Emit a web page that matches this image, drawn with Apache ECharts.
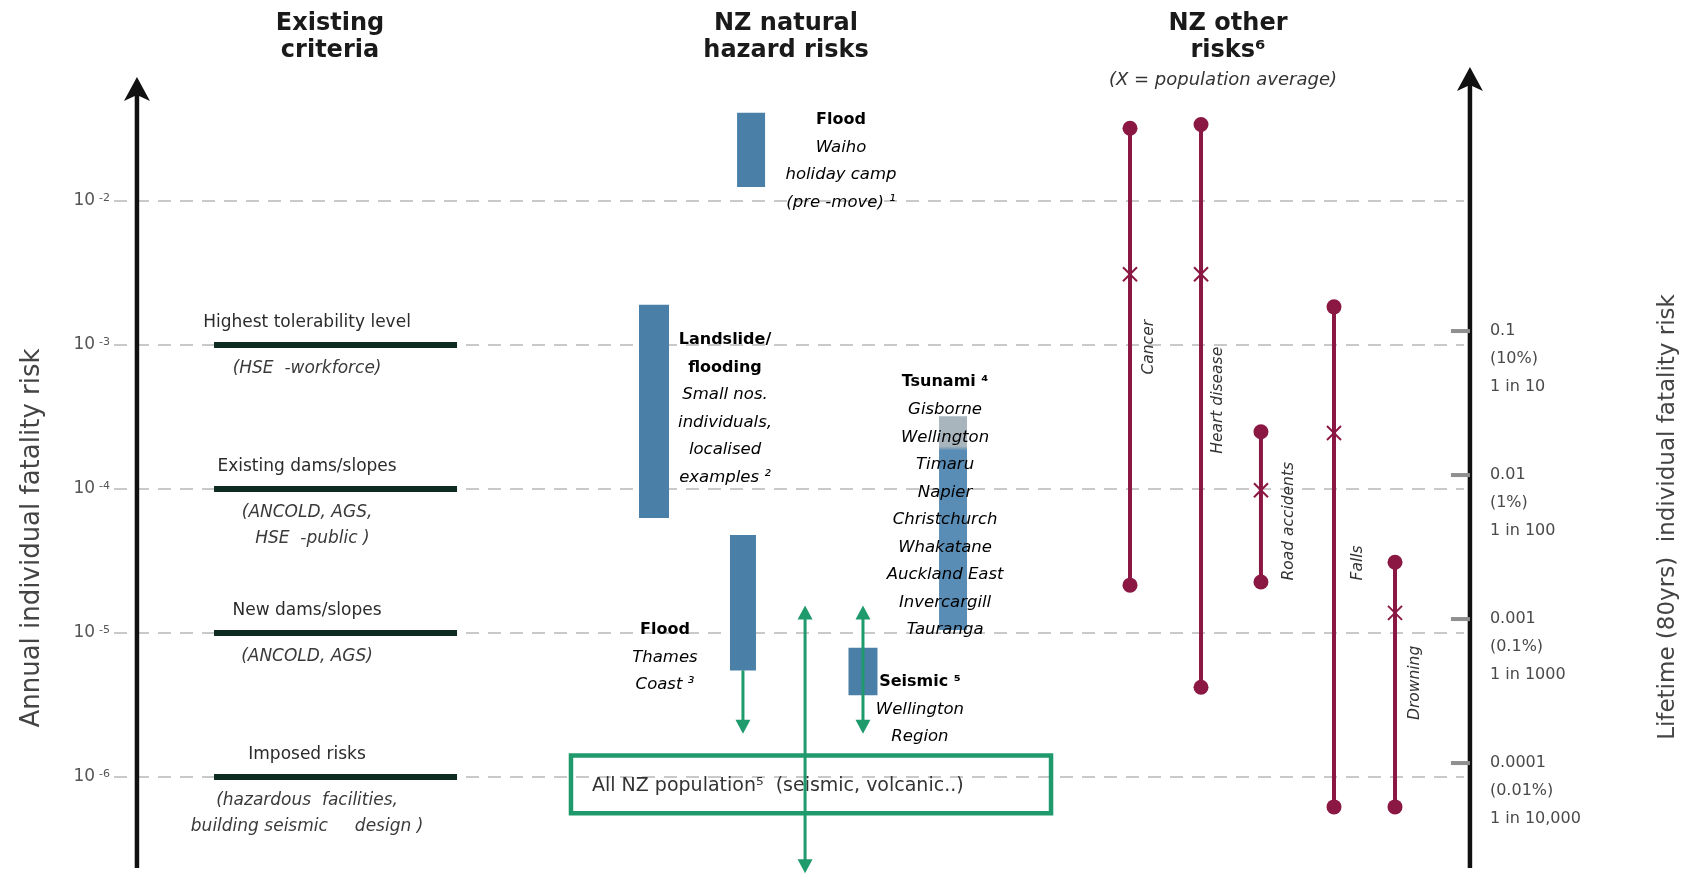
<!DOCTYPE html>
<html>
<head>
<meta charset="utf-8">
<title>Annual individual fatality risk</title>
<script src="https://cdn.jsdelivr.net/npm/echarts@6/dist/echarts.min.js"></script>
<style>
  html, body { margin: 0; padding: 0; background: #fff; }
  #main { width: 1686px; height: 885px; }
</style>
</head>
<body>
<div id="main"></div>
<script>
var FONT = '"DejaVu Sans", Lato, sans-serif';
var INK = '#333333';
var BLUE = '#4a80a8';
var MAROON = '#8a1843';
var GREEN = '#1f9a6c';

// ---- data ----
// left axis: annual risk decades
var decades = [1e-2, 1e-3, 1e-4, 1e-5, 1e-6];

// right axis: lifetime (80 yrs) risk
var lifetimeYears = 80;
var lifetimeRisk = [0.1, 0.01, 0.001, 0.0001];
var lifetimePct = ['(10%)', '(1%)', '(0.1%)', '(0.01%)'];
var lifetimeOdds = ['1 in 10', '1 in 100', '1 in 1000', '1 in 10,000'];

// existing criteria
var criteriaNames = ['Highest tolerability level', 'Existing dams/slopes', 'New dams/slopes', 'Imposed risks'];
var criteriaNotes = [
  ['(HSE  -workforce)'],
  ['(ANCOLD, AGS,', '  HSE  -public )'],
  ['(ANCOLD, AGS)'],
  ['(hazardous  facilities,', 'building seismic     design )']
];
var criteriaRisk = [1e-3, 1e-4, 1e-5, 1e-6];

// NZ natural hazard risks (ranges)
var hazardTitles = [['Flood'], ['Landslide/', 'flooding'], ['Flood'], ['Tsunami \u2074'], ['Seismic \u2075']];
var hazardNotes = [
  ['Waiho', 'holiday camp', '(pre -move) \u00b9'],
  ['Small nos.', 'individuals,', 'localised', 'examples \u00b2'],
  ['Thames', 'Coast \u00b3'],
  ['Gisborne', 'Wellington', 'Timaru', 'Napier', 'Christchurch', 'Whakatane', 'Auckland East', 'Invercargill', 'Tauranga'],
  ['Wellington', 'Region']
];
var hazardLow = [1.25e-2, 6.3e-5, 5.5e-6, 1.05e-5, 3.7e-6];
var hazardHigh = [4.1e-2, 1.9e-3, 4.8e-5, 3.2e-4, 7.9e-6];

// green range arrows (Thames flood, all NZ, Wellington seismic)
var arrowFrom = [5.5e-6, 1.55e-5, 1.55e-5];
var arrowTo = [2.0e-6, 2.15e-7, 2.0e-6];
var arrowBothEnds = [false, true, true];

// all NZ population band
var populationRange = [5.6e-7, 1.41e-6];
var populationText = 'All NZ population\u2075  (seismic, volcanic..)';

// NZ other risks
var riskNames = ['Cancer', 'Heart disease', 'Road accidents', 'Falls', 'Drowning'];
var riskHigh = [3.2e-2, 3.4e-2, 2.5e-4, 1.84e-3, 3.1e-5];
var riskAverage = [3.1e-3, 3.1e-3, 9.8e-5, 2.45e-4, 1.38e-5];
var riskLow = [2.15e-5, 4.2e-6, 2.26e-5, 6.2e-7, 6.2e-7];

// ---- layout (x as percent of plot width) ----
var axisX = [1.7, 100.44];
var axisEnds = [[2.33e-7, 7.26e-2], [2.33e-7, 8.53e-2]];
var criteriaSpan = [7.41, 25.41];
var criteriaLabelX = 14.3;
var hazardX = [47.19, 40.0, 46.59, 62.15, 55.48];
var hazardWidth = [28, 30, 26, 28, 29];
var hazardLabelX = [53.85, 45.26, 40.81, 61.56, 59.7];
var hazardLabelDy = [7, 35, 95, -34, 34];
var arrowX = [46.59, 51.19, 55.48];
var populationSpan = [33.85, 69.41];
var riskX = [75.26, 80.52, 84.96, 90.37, 94.89];
var riskLabelOffset = [[19, 73], [17, 126], [28, 31], [24, 130], [20, 70]];

var chart = echarts.init(document.getElementById('main'));

function decadeLabel(v) {
  var l = Math.log10(v);
  var e = Math.round(l);
  if (Math.abs(l - e) > 1e-6) return '';
  for (var i = 0; i < decades.length; i++) {
    if (Math.round(Math.log10(decades[i])) === e) return '{n|10}{e|' + e + '}';
  }
  return '';
}

function textStyle(size, extra) {
  var s = { fill: INK, fontFamily: FONT, fontSize: size, align: 'center', verticalAlign: 'middle' };
  for (var k in extra) s[k] = extra[k];
  return s;
}

function renderGrid(params, api) {
  var a = api.coord([0, api.value(0)]);
  var b = api.coord([100, api.value(0)]);
  return { type: 'line', shape: { x1: a[0], y1: a[1], x2: b[0], y2: b[1] }, style: { stroke: '#c9c9c9', lineWidth: 2, lineDash: [13, 9] } };
}

function renderAxis(params, api) {
  var bottom = api.coord([api.value(0), api.value(1)]);
  var top = api.coord([api.value(0), api.value(2)]);
  var x = top[0];
  return {
    type: 'group',
    children: [
      { type: 'line', shape: { x1: x, y1: bottom[1], x2: x, y2: top[1] + 16 }, style: { stroke: '#111', lineWidth: 4.5 } },
      { type: 'polygon', shape: { points: [[x, top[1]], [x + 13, top[1] + 24], [x, top[1] + 18], [x - 13, top[1] + 24]] }, style: { fill: '#111' } }
    ]
  };
}

function renderCriteria(params, api) {
  var i = params.dataIndex;
  var a = api.coord([api.value(0), api.value(1)]);
  var b = api.coord([api.value(2), api.value(1)]);
  var cx = api.coord([criteriaLabelX, api.value(1)])[0];
  return {
    type: 'group',
    children: [
      { type: 'line', shape: { x1: a[0], y1: a[1], x2: b[0], y2: b[1] }, style: { stroke: '#0e2b22', lineWidth: 6 } },
      { type: 'text', x: cx, y: a[1] - 22, style: textStyle(17, { text: criteriaNames[i], fill: '#2b2b2b' }) },
      { type: 'text', x: cx, y: a[1] + 24 - 13, style: textStyle(17, { text: criteriaNotes[i].join('\n'), fontStyle: 'italic', lineHeight: 26, verticalAlign: 'top', fill: '#3a3a3a' }) }
    ]
  };
}

function renderHazard(params, api) {
  var i = params.dataIndex;
  var top = api.coord([api.value(0), api.value(2)]);
  var bottom = api.coord([api.value(0), api.value(1)]);
  var w = hazardWidth[i];
  var lx = api.coord([hazardLabelX[i], api.value(2)])[0];
  var lines = hazardTitles[i].map(function (t) { return '{b|' + t + '}'; })
    .concat(hazardNotes[i].map(function (t) { return '{i|' + t + '}'; }));
  var fill = BLUE;
  if (i === 3) {
    fill = new echarts.graphic.LinearGradient(0, 0, 0, 1, [
      { offset: 0, color: '#a9b5bc' }, { offset: 0.14, color: '#a9b5bc' },
      { offset: 0.16, color: '#5a8db6' }, { offset: 1, color: '#5a8db6' }
    ]);
  }
  return {
    type: 'group',
    children: [
      { type: 'rect', shape: { x: top[0] - w / 2, y: top[1], width: w, height: bottom[1] - top[1] }, style: { fill: fill } },
      {
        type: 'text', x: lx, y: top[1] + hazardLabelDy[i] - 13.75,
        style: {
          text: lines.join('\n'), align: 'center', verticalAlign: 'top',
          rich: {
            b: { fontFamily: FONT, fontSize: 16, fontWeight: 'bold', color: '#222', lineHeight: 27.5, align: 'center' },
            i: { fontFamily: FONT, fontSize: 16.5, fontStyle: 'italic', color: '#3a3a3a', lineHeight: 27.5, align: 'center' }
          }
        }
      }
    ]
  };
}

function arrowHead(x, y, dir) {
  // dir = 1 points down, -1 points up
  return { type: 'polygon', shape: { points: [[x, y], [x - 7.5, y - dir * 14], [x + 7.5, y - dir * 14]] }, style: { fill: GREEN } };
}

function renderArrow(params, api) {
  var i = params.dataIndex;
  var a = api.coord([api.value(0), api.value(1)]);
  var b = api.coord([api.value(0), api.value(2)]);
  var kids = [
    { type: 'line', shape: { x1: a[0], y1: arrowBothEnds[i] ? a[1] + 10 : a[1], x2: b[0], y2: b[1] - 10 }, style: { stroke: GREEN, lineWidth: 3 } },
    arrowHead(b[0], b[1], 1)
  ];
  if (arrowBothEnds[i]) kids.push(arrowHead(a[0], a[1], -1));
  return { type: 'group', children: kids };
}

function renderPopulation(params, api) {
  var p1 = api.coord([api.value(0), api.value(2)]);
  var p2 = api.coord([api.value(1), api.value(3)]);
  return {
    type: 'group',
    children: [
      { type: 'rect', shape: { x: p1[0], y: p1[1], width: p2[0] - p1[0], height: p2[1] - p1[1] }, style: { fill: 'none', stroke: GREEN, lineWidth: 4.5 } },
      { type: 'text', x: p1[0] + 21, y: (p1[1] + p2[1]) / 2 + 2, style: textStyle(19, { text: populationText, align: 'left', fill: '#333' }) }
    ]
  };
}

function renderRisk(params, api) {
  var i = params.dataIndex;
  var x = api.value(0);
  var hi = api.coord([x, api.value(1)]);
  var avg = api.coord([x, api.value(2)]);
  var lo = api.coord([x, api.value(3)]);
  var off = riskLabelOffset[i];
  return {
    type: 'group',
    children: [
      { type: 'line', shape: { x1: hi[0], y1: hi[1], x2: lo[0], y2: lo[1] }, style: { stroke: MAROON, lineWidth: 4 } },
      { type: 'circle', shape: { cx: hi[0], cy: hi[1], r: 7.5 }, style: { fill: MAROON } },
      { type: 'circle', shape: { cx: lo[0], cy: lo[1], r: 7.5 }, style: { fill: MAROON } },
      { type: 'line', shape: { x1: avg[0] - 7, y1: avg[1] - 7, x2: avg[0] + 7, y2: avg[1] + 7 }, style: { stroke: MAROON, lineWidth: 2 } },
      { type: 'line', shape: { x1: avg[0] + 7, y1: avg[1] - 7, x2: avg[0] - 7, y2: avg[1] + 7 }, style: { stroke: MAROON, lineWidth: 2 } },
      { type: 'text', x: avg[0] + off[0], y: avg[1] + off[1], rotation: Math.PI / 2, style: textStyle(15.5, { text: riskNames[i], fontStyle: 'italic', fill: '#333' }) }
    ]
  };
}

function renderLifetime(params, api) {
  var i = params.dataIndex;
  var p = api.coord([api.value(0), api.value(1)]);
  return {
    type: 'group',
    children: [
      { type: 'rect', shape: { x: p[0] - 19, y: p[1] - 2, width: 19, height: 4 }, style: { fill: '#8f8f8f' } },
      { type: 'text', x: p[0] + 20, y: p[1] - 14, style: textStyle(16, { text: lifetimeRisk[i] + '\n' + lifetimePct[i] + '\n' + lifetimeOdds[i], align: 'left', verticalAlign: 'top', lineHeight: 28, fill: '#4a4a4a' }) }
    ]
  };
}

var headerStyle = { fill: '#1a1a1a', fontFamily: FONT, fontSize: 24, fontWeight: 'bold', lineHeight: 27, align: 'center', verticalAlign: 'top' };
function header(text) {
  var s = {};
  for (var k in headerStyle) s[k] = headerStyle[k];
  s.text = text;
  return s;
}

var option = {
  animation: false,
  backgroundColor: '#ffffff',
  grid: { left: 114, right: 222, top: 57, bottom: 0 },
  xAxis: { type: 'value', min: 0, max: 100, show: false },
  yAxis: {
    type: 'log',
    logBase: 10,
    min: Math.pow(10, -6.75),
    max: 0.1,
    axisLine: { show: false },
    axisTick: { show: false },
    splitLine: { show: false },
    axisLabel: {
      margin: 4,
      showMinLabel: false,
      showMaxLabel: false,
      formatter: decadeLabel,
      rich: {
        n: { fontFamily: FONT, fontSize: 17, color: '#555' },
        e: { fontFamily: FONT, fontSize: 11, color: '#555', verticalAlign: 'top', padding: [0, 0, 0, 4] }
      }
    }
  },
  graphic: [
    { type: 'text', x: 330, y: 10, style: header('Existing\ncriteria') },
    { type: 'text', x: 786, y: 10, style: header('NZ natural\nhazard risks') },
    { type: 'text', x: 1228, y: 10, style: header('NZ other\nrisks\u2076') },
    { type: 'text', x: 1223, y: 80, style: { text: '(X = population average)', fill: '#333', fontFamily: FONT, fontSize: 18, fontStyle: 'italic', align: 'center', verticalAlign: 'middle' } },
    { type: 'text', x: 32, y: 538, rotation: Math.PI / 2, style: { text: 'Annual individual fatality risk', fill: '#444', fontFamily: FONT, fontSize: 26, align: 'center', verticalAlign: 'middle' } },
    { type: 'text', x: 1668, y: 517, rotation: Math.PI / 2, style: { text: 'Lifetime (80yrs)  individual fatality risk', fill: '#444', fontFamily: FONT, fontSize: 23, align: 'center', verticalAlign: 'middle' } }
  ],
  series: [
    {
      type: 'custom', name: 'gridlines', coordinateSystem: 'cartesian2d', clip: false, silent: true,
      renderItem: renderGrid,
      data: decades.map(function (v) { return [v]; }),
      encode: { y: 0 }
    },
    {
      type: 'custom', name: 'criteria', coordinateSystem: 'cartesian2d', clip: false, silent: true,
      renderItem: renderCriteria,
      data: criteriaRisk.map(function (v) { return [criteriaSpan[0], v, criteriaSpan[1]]; })
    },
    {
      type: 'custom', name: 'hazards', coordinateSystem: 'cartesian2d', clip: false, silent: true,
      renderItem: renderHazard,
      data: hazardLow.map(function (v, i) { return [hazardX[i], v, hazardHigh[i]]; })
    },
    {
      type: 'custom', name: 'population', coordinateSystem: 'cartesian2d', clip: false, silent: true,
      renderItem: renderPopulation,
      data: [[populationSpan[0], populationSpan[1], populationRange[1], populationRange[0]]]
    },
    {
      type: 'custom', name: 'arrows', coordinateSystem: 'cartesian2d', clip: false, silent: true,
      renderItem: renderArrow,
      data: arrowFrom.map(function (v, i) { return [arrowX[i], v, arrowTo[i]]; })
    },
    {
      type: 'custom', name: 'other risks', coordinateSystem: 'cartesian2d', clip: false, silent: true,
      renderItem: renderRisk,
      data: riskHigh.map(function (v, i) { return [riskX[i], v, riskAverage[i], riskLow[i]]; })
    },
    {
      type: 'custom', name: 'axes', coordinateSystem: 'cartesian2d', clip: false, silent: true,
      renderItem: renderAxis,
      data: axisX.map(function (x, i) { return [x, axisEnds[i][0], axisEnds[i][1]]; })
    },
    {
      type: 'custom', name: 'lifetime', coordinateSystem: 'cartesian2d', clip: false, silent: true,
      renderItem: renderLifetime,
      data: lifetimeRisk.map(function (v) { return [axisX[1], v / lifetimeYears]; })
    }
  ]
};

chart.setOption(option);
</script>
</body>
</html>
